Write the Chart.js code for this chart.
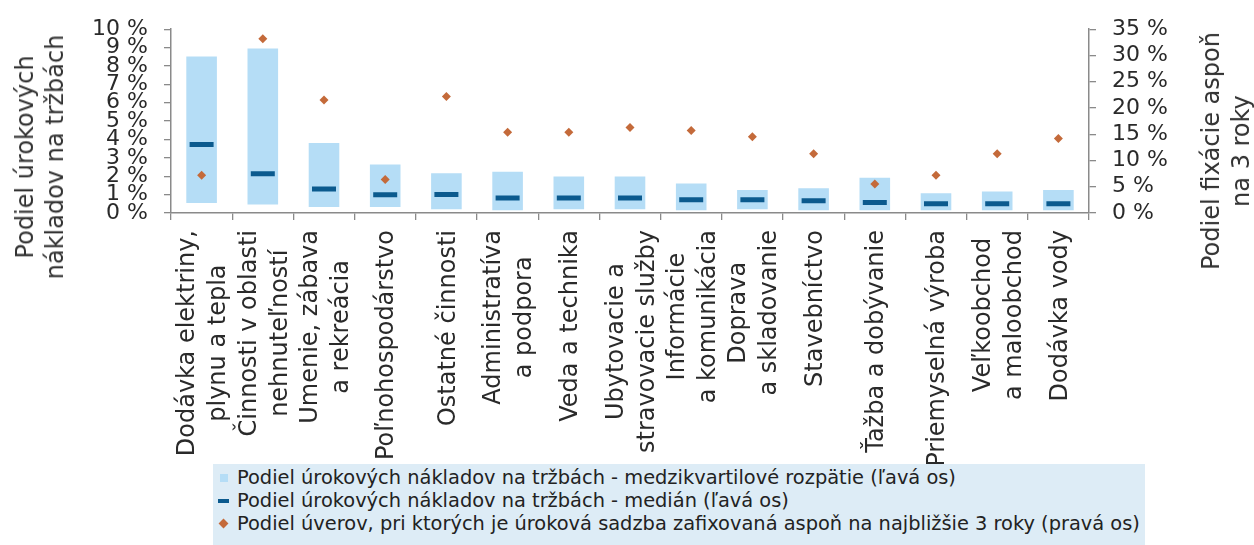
<!DOCTYPE html>
<html>
<head>
<meta charset="utf-8">
<script src="https://cdn.jsdelivr.net/npm/chart.js@4/dist/chart.umd.min.js"></script>
<style>
  html, body { margin: 0; padding: 0; background: #fff; }
  #wrap { position: relative; width: 1254px; height: 545px; overflow: hidden; font-family: "DejaVu Sans", sans-serif; }
  #chart { position: absolute; left: 0; top: 0; }
  .anchor { position: absolute; width: 0; height: 0; }
  .atitle { position: absolute; left: 0; top: 0; white-space: nowrap; text-align: center;
            font-size: 24px; line-height: 30px; color: #333;
            transform: translate(-50%, -50%) rotate(-90deg); }
  #legend { position: absolute; left: 213px; top: 464px; width: 932px; height: 81px;
            background: #ddecf6; font-size: 19.4px; line-height: 23px; color: #222; padding-top: 2px; box-sizing: border-box; }
  .item { position: relative; padding-left: 24px; white-space: nowrap; }
  .mk { position: absolute; }
</style>
</head>
<body>
<div id="wrap">
  <canvas id="chart" width="1254" height="545"></canvas>
  <div class="anchor" style="left:40px; top:157px;"><div class="atitle" id="leftTitle"></div></div>
  <div class="anchor" style="left:1226px; top:151px;"><div class="atitle" id="rightTitle"></div></div>
  <div id="legend"></div>
</div>
<script>
// Sectors (multi-line labels are arrays of lines)
const categories = [
  ["Dodávka elektriny,", "plynu a tepla"],
  ["Činnosti v oblasti", "nehnuteľností"],
  ["Umenie, zábava", "a rekreácia"],
  "Poľnohospodárstvo",
  "Ostatné činnosti",
  ["Administratíva", "a podpora"],
  "Veda a technika",
  ["Ubytovacie a", "stravovacie služby"],
  ["Informácie", "a komunikácia"],
  ["Doprava", "a skladovanie"],
  "Stavebníctvo",
  "Ťažba a dobývanie",
  "Priemyselná výroba",
  ["Veľkoobchod", "a maloobchod"],
  "Dodávka vody"
];

// Interest costs to revenue (%), left axis
const lowerQuartile = [0.55, 0.46, 0.32, 0.32, 0.20, 0.15, 0.20, 0.20, 0.15, 0.20, 0.15, 0.15, 0.15, 0.15, 0.15];
const upperQuartile = [8.52, 8.95, 3.81, 2.64, 2.16, 2.25, 1.99, 1.99, 1.60, 1.25, 1.34, 1.92, 1.08, 1.17, 1.25];
const median        = [3.73, 2.13, 1.30, 0.99, 1.00, 0.82, 0.82, 0.82, 0.72, 0.72, 0.66, 0.57, 0.50, 0.50, 0.50];

// Share of loans with rate fixed for at least 3 years (%), right axis
const fixedShare    = [7.2, 33.2, 21.5, 6.4, 22.2, 15.4, 15.4, 16.3, 15.7, 14.5, 11.3, 5.5, 7.2, 11.3, 14.2];

// Axis ranges
const leftTicks  = { min: 0, max: 10, step: 1 };
const rightTicks = { min: 0, max: 35, step: 5 };

// Texts
const seriesNames = [
  "Podiel úrokových nákladov na tržbách - medzikvartilové rozpätie (ľavá os)",
  "Podiel úrokových nákladov na tržbách - medián (ľavá os)",
  "Podiel úverov, pri ktorých je úroková sadzba zafixovaná aspoň na najbližšie 3 roky (pravá os)"
];
const leftTitle  = ["Podiel úrokových", "nákladov na tržbách"];
const rightTitle = ["Podiel fixácie aspoň", "na 3 roky"];

const FONT = '"DejaVu Sans", sans-serif';
const BAR_COLOR = '#b5ddf6';
const MEDIAN_COLOR = '#0b5a8e';
const DOT_COLOR = '#c46a3a';
const AXIS_COLOR = '#8a8a8a';
const TEXT_COLOR = '#2a2a2a';

document.getElementById('leftTitle').innerHTML = leftTitle.join('<br>');
document.getElementById('rightTitle').innerHTML = rightTitle.join('<br>');

// Legend
const legend = document.getElementById('legend');
const markers = [
  `<span class="mk" style="left:7px;top:8px;width:8px;height:8px;background:${BAR_COLOR}"></span>`,
  `<span class="mk" style="left:5px;top:10px;width:11px;height:4px;background:${MEDIAN_COLOR}"></span>`,
  `<span class="mk" style="left:7px;top:8px;width:7px;height:7px;background:${DOT_COLOR};transform:rotate(45deg)"></span>`
];
seriesNames.forEach((name, i) => {
  const d = document.createElement('div');
  d.className = 'item';
  d.innerHTML = markers[i] + name;
  legend.appendChild(d);
});

// Category labels: rotated, block ends near the axis, lines centred within the block
const xLabelPlugin = {
  id: 'xLabels',
  afterDraw(chart) {
    const { ctx } = chart;
    const x = chart.scales.x;
    const lineH = 31;
    ctx.save();
    ctx.font = '24px ' + FONT;
    ctx.fillStyle = TEXT_COLOR;
    ctx.textAlign = 'center';
    ctx.textBaseline = 'middle';
    categories.forEach((lab, i) => {
      const lines = Array.isArray(lab) ? lab : [lab];
      const cx = x.getPixelForValue(i) + 2;
      const w = Math.max(...lines.map(l => ctx.measureText(l).width));
      const cy = x.top + 17 + w / 2;
      lines.forEach((l, j) => {
        ctx.save();
        ctx.translate(cx + (j - (lines.length - 1) / 2) * lineH, cy);
        ctx.rotate(-Math.PI / 2);
        ctx.fillText(l, 0, 0);
        ctx.restore();
      });
    });
    ctx.restore();
  }
};

new Chart(document.getElementById('chart'), {
  type: 'bar',
  data: {
    labels: categories,
    datasets: [
      {
        type: 'bar',
        label: seriesNames[0],
        data: lowerQuartile.map((lo, i) => [lo, upperQuartile[i]]),
        backgroundColor: BAR_COLOR,
        borderWidth: 0,
        barPercentage: 0.5,
        categoryPercentage: 1,
        yAxisID: 'y',
        order: 3
      },
      {
        type: 'line',
        label: seriesNames[1],
        data: median,
        showLine: false,
        pointStyle: 'line',
        pointRadius: 12,
        pointBorderWidth: 5,
        borderColor: MEDIAN_COLOR,
        backgroundColor: MEDIAN_COLOR,
        yAxisID: 'y',
        order: 2
      },
      {
        type: 'line',
        label: seriesNames[2],
        data: fixedShare,
        showLine: false,
        pointStyle: 'rectRot',
        pointRadius: 4.5,
        pointBorderWidth: 0,
        borderColor: DOT_COLOR,
        backgroundColor: DOT_COLOR,
        yAxisID: 'y1',
        order: 1
      }
    ]
  },
  options: {
    responsive: false,
    animation: false,
    events: [],
    layout: { padding: { top: 19 } },
    plugins: { legend: { display: false }, tooltip: { enabled: false } },
    scales: {
      x: {
        grid: { offset: true, drawOnChartArea: false, drawTicks: true, tickLength: 7, color: AXIS_COLOR, lineWidth: 1.3 },
        border: { color: AXIS_COLOR, width: 1.5 },
        ticks: { display: false },
        afterFit(s) { s.height = 332; }
      },
      y: {
        position: 'left',
        min: leftTicks.min, max: leftTicks.max,
        grid: { drawOnChartArea: false, tickLength: 7, color: AXIS_COLOR, lineWidth: 1.3 },
        border: { color: AXIS_COLOR, width: 1.5 },
        ticks: { stepSize: leftTicks.step, autoSkip: false, padding: 16, color: TEXT_COLOR, font: { family: FONT, size: 22 },
                 callback: v => v + ' %' },
        afterFit(s) { s.width = 171; }
      },
      y1: {
        position: 'right',
        min: rightTicks.min, max: rightTicks.max,
        grid: { drawOnChartArea: false, tickLength: 7, color: AXIS_COLOR, lineWidth: 1.3 },
        border: { color: AXIS_COLOR, width: 1.5 },
        ticks: { stepSize: rightTicks.step, autoSkip: false, padding: 16, color: TEXT_COLOR, font: { family: FONT, size: 22 },
                 callback: v => v + ' %' },
        afterFit(s) { s.width = 165; }
      }
    }
  },
  plugins: [xLabelPlugin]
});
</script>
</body>
</html>
